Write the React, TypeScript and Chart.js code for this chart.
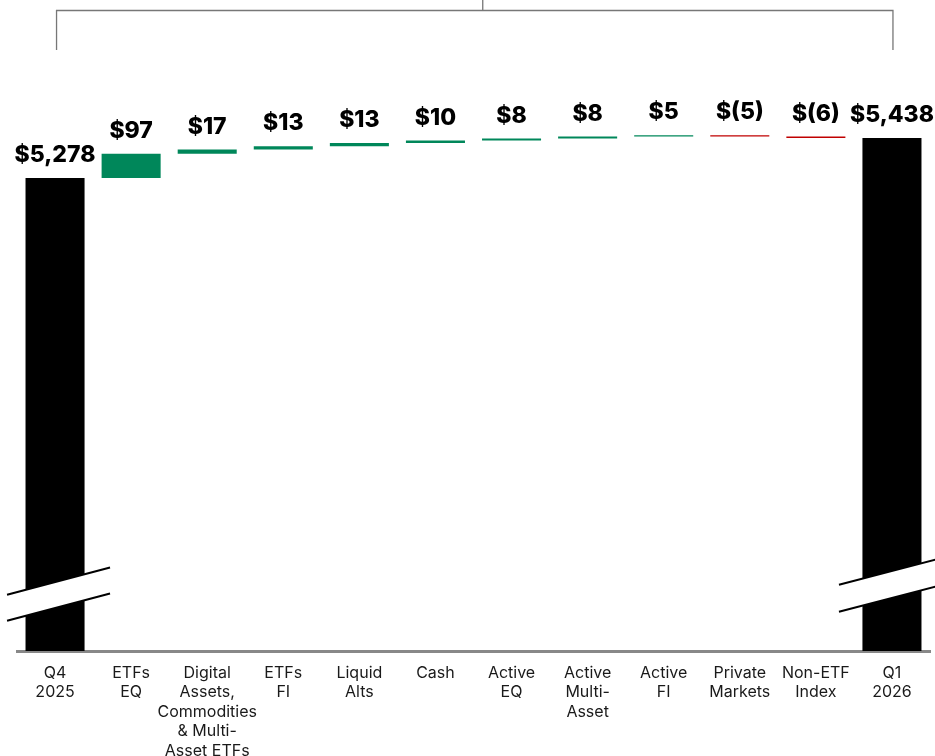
import React, { useEffect, useRef } from "react";
import { Chart, registerables } from "chart.js";

Chart.register(...registerables);

const categories: string[][] = [
  ["Q4", "2025"],
  ["ETFs", "EQ"],
  ["Digital", "Assets,", "Commodities", "& Multi-", "Asset ETFs"],
  ["ETFs", "FI"],
  ["Liquid", "Alts"],
  ["Cash"],
  ["Active", "EQ"],
  ["Active", "Multi-", "Asset"],
  ["Active", "FI"],
  ["Private", "Markets"],
  ["Non-ETF", "Index"],
  ["Q1", "2026"],
];

const startTotal = 5278;
const endTotal = 5438;
const flows: number[] = [97, 17, 13, 13, 10, 8, 8, 5, -5, -6];
const valueLabels: string[] = [
  "$5,278", "$97", "$17", "$13", "$13", "$10", "$8", "$8", "$5", "$(5)", "$(6)", "$5,438",
];

const axisMin = 3386;
const axisMax = 5750;

const GREEN = "#00875a";
const RED = "#c00000";
const BLACK = "#000000";

function buildData() {
  const data: [number, number][] = [];
  const colors: string[] = [];
  data.push([axisMin, startTotal]);
  colors.push(BLACK);
  let cum = startTotal;
  for (const f of flows) {
    data.push([cum, cum + f]);
    colors.push(f >= 0 ? GREEN : RED);
    cum += f;
  }
  data.push([axisMin, endTotal]);
  colors.push(BLACK);
  return { data, colors };
}

const labelPlugin = {
  id: "valueLabels",
  afterDatasetsDraw(chart: any) {
    const ctx = chart.ctx;
    const meta = chart.getDatasetMeta(0);
    ctx.save();
    ctx.font = "800 23px Inter, 'Noto Sans', sans-serif";
    ctx.fillStyle = "#000";
    ctx.textAlign = "center";
    ctx.textBaseline = "alphabetic";
    meta.data.forEach((el: any, i: number) => {
      const top = Math.min(el.y, el.base);
      ctx.fillText(valueLabels[i], el.x, top - 16);
    });
    ctx.restore();
  },
};

const breakPlugin = {
  id: "axisBreaks",
  afterDatasetsDraw(chart: any) {
    const ctx = chart.ctx;
    const meta = chart.getDatasetMeta(0);
    const bottom = chart.chartArea.bottom;
    const n = meta.data.length;
    const specs = [
      { idx: 0, left: -48, right: 55, center: 69, slope: -0.265, gap: 26 },
      { idx: n - 1, left: -53, right: 45, center: 80, slope: -0.26, gap: 27 },
    ];
    ctx.save();
    for (const s of specs) {
      const el: any = meta.data[s.idx];
      const cx = el.x;
      const cy = bottom - s.center;
      const x1 = cx + s.left;
      const x2 = cx + s.right;
      const y1 = cy + s.left * s.slope;
      const y2 = cy + s.right * s.slope;
      ctx.fillStyle = "#ffffff";
      ctx.beginPath();
      ctx.moveTo(x1, y1);
      ctx.lineTo(x2, y2);
      ctx.lineTo(x2, y2 + s.gap);
      ctx.lineTo(x1, y1 + s.gap);
      ctx.closePath();
      ctx.fill();
      ctx.strokeStyle = "#000";
      ctx.lineWidth = 2;
      ctx.beginPath();
      ctx.moveTo(x1, y1);
      ctx.lineTo(x2, y2);
      ctx.moveTo(x1, y1 + s.gap);
      ctx.lineTo(x2, y2 + s.gap);
      ctx.stroke();
    }
    ctx.restore();
  },
};

const bracketPlugin = {
  id: "bracket",
  afterDraw(chart: any) {
    const ctx = chart.ctx;
    const meta = chart.getDatasetMeta(0);
    const n = meta.data.length;
    const xa = meta.data[0].x + 1.5;
    const xb = meta.data[n - 1].x + 1;
    const y = 10.5;
    ctx.save();
    ctx.strokeStyle = "#777";
    ctx.lineWidth = 1.3;
    ctx.beginPath();
    ctx.moveTo(xa, 50);
    ctx.lineTo(xa, y);
    ctx.lineTo(xb, y);
    ctx.lineTo(xb, 50);
    const mid = (xa + xb) / 2 + 8;
    ctx.moveTo(mid, 0);
    ctx.lineTo(mid, y);
    ctx.stroke();
    ctx.restore();
  },
};

export default function App() {
  const ref = useRef<HTMLCanvasElement | null>(null);

  useEffect(() => {
    if (!ref.current) return;
    const { data, colors } = buildData();
    const chart = new Chart(ref.current, {
      type: "bar",
      data: {
        labels: categories,
        datasets: [
          {
            data,
            backgroundColor: colors,
            borderWidth: 0,
            borderSkipped: false,
            barPercentage: 0.776,
            categoryPercentage: 1,
          } as any,
        ],
      },
      options: {
        animation: false,
        responsive: true,
        maintainAspectRatio: false,
        layout: { padding: { top: 60, left: 17, right: 5, bottom: 0 } },
        plugins: {
          legend: { display: false },
          tooltip: { enabled: false },
        },
        scales: {
          x: {
            grid: { display: false, drawTicks: false },
            border: { display: true, color: "#888", width: 3 },
            ticks: {
              color: "#1a1a1a",
              padding: 12,
              maxRotation: 0,
              autoSkip: false,
              font: { family: "Inter, 'Noto Sans', sans-serif", size: 16, lineHeight: 1.22 },
            },
            afterFit(scale: any) {
              scale.height = 105;
            },
          },
          y: {
            display: false,
            min: axisMin,
            max: axisMax,
          },
        },
      },
      plugins: [labelPlugin, breakPlugin, bracketPlugin],
    });
    return () => chart.destroy();
  }, []);

  return (
    <div style={{ position: "fixed", left: 0, top: 0, width: 935, height: 756, background: "#fff" }}>
      <canvas ref={ref} />
    </div>
  );
}
